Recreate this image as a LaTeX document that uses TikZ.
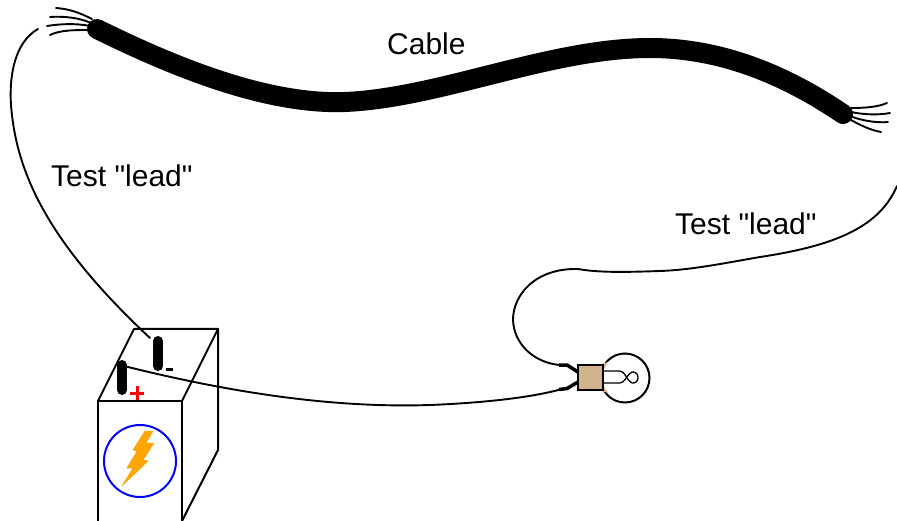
\documentclass[tikz,border=0pt]{standalone}
\usepackage{fontspec}
\newfontfamily\labfont{Liberation Sans}
\tikzset{
  wire/.style={line width=1.9pt,line cap=round},
  strand/.style={line width=1.9pt,line cap=round},
  edgeline/.style={line width=2pt,line join=round},
  lab/.style={font=\labfont\fontsize{30}{32}\selectfont,inner sep=0pt,anchor=base west},
  cablebody/.style={line width=20pt,line cap=round},
  post/.style={line width=10pt,line cap=round}
}
\definecolor{bulbbase}{RGB}{210,180,140}
\definecolor{bolt}{RGB}{255,165,0}
\begin{document}
\begin{tikzpicture}[x=1pt,y=-1pt]
\useasboundingbox (0,0) rectangle (897,521);
% cable
\draw[cablebody] (97,29) .. controls (170,65) and (265,105) .. (345,102)
  .. controls (440,98) and (550,48) .. (650,48)
  .. controls (725,48) and (790,78) .. (843,114);
% left strands
\draw[strand] (92,19) .. controls (80,13) and (70,9) .. (56,8);
\draw[strand] (91,23) .. controls (80,18) and (65,16) .. (50,17);
\draw[strand] (90,26) .. controls (75,23) and (60,24) .. (47,26);
\draw[strand] (89,30) .. controls (75,30) and (60,30) .. (50,35);
% right strands
\draw[strand] (851,108) .. controls (865,108) and (878,107) .. (887,103);
\draw[strand] (851,112) .. controls (865,115) and (880,115) .. (890,113);
\draw[strand] (850,116) .. controls (862,121) and (878,123) .. (888,122);
\draw[strand] (849,119) .. controls (860,125) and (870,130) .. (881,132);
% battery
\draw[edgeline] (98,521) -- (98,401) -- (182,401) -- (182,521);
\draw[edgeline] (98,401) -- (134,329) -- (218,329) -- (182,401);
\draw[edgeline] (218,329) -- (218,450) -- (182,521);
\draw[blue,line width=2pt] (140,461) circle (36);
\fill[bolt,draw=bolt,line width=.5pt,line join=round] (145,431) -- (153,431) -- (146,443) -- (154,443) -- (143,460) -- (148,461) -- (122,486) -- (133,468) -- (127,468) -- (137,451) -- (133,450) -- cycle;
\draw[post] (158,341) -- (158,366);
\draw[post] (122,365) -- (122,390);
\draw[line width=2.5pt] (166,369.5) -- (173,369.5);
\draw[red,line width=3pt] (130,393) -- (144,393) (137,386) -- (137,400);
% leads
\draw[wire] (38,29) .. controls (15,42) and (9,75) .. (11,105)
  .. controls (16,170) and (45,240) .. (150,338);
\draw[wire] (124,366) .. controls (240,395) and (340,408) .. (430,405)
  .. controls (480,403) and (530,398) .. (562,389);
\draw[wire] (897,186) .. controls (880,225) and (840,245) .. (760,257)
  .. controls (720,264) and (690,270) .. (660,271)
  .. controls (630,272) and (600,273) .. (578,269)
  .. controls (535,268) and (513,295) .. (513,320)
  .. controls (514,345) and (535,363) .. (560,365);
% bulb
\draw[line width=2pt] (625,378) circle (24.5);
\fill[bulbbase] (601,364) -- (608,362) .. controls (604,368) and (603,372) .. (603,373) -- (603,383) .. controls (603,385) and (605,389) .. (608,393) -- (601,391) -- cycle;
\draw[line width=1.3pt,fill=white] (603,371) -- (620,371) .. controls (625,371) and (627,381) .. (632,383) .. controls (640,384) and (640,371) .. (632,372) .. controls (627,374) and (625,383) .. (620,383) -- (603,383);
\draw[line width=2pt,fill=bulbbase] (578,365) rectangle (603,390);
\draw[line width=3.5pt,line join=round] (578,372) -- (567,365) -- (559,365);
\draw[line width=3.5pt,line join=round] (578,382) -- (567,388.5) -- (559,389.5);
% labels
\node[lab] (cable) at (387,55) {Cable};
\node[lab] (leadl) at (51,187) {Test "lead"};
\node[lab] (leadr) at (675,235) {Test "lead"};
\end{tikzpicture}
\end{document}
